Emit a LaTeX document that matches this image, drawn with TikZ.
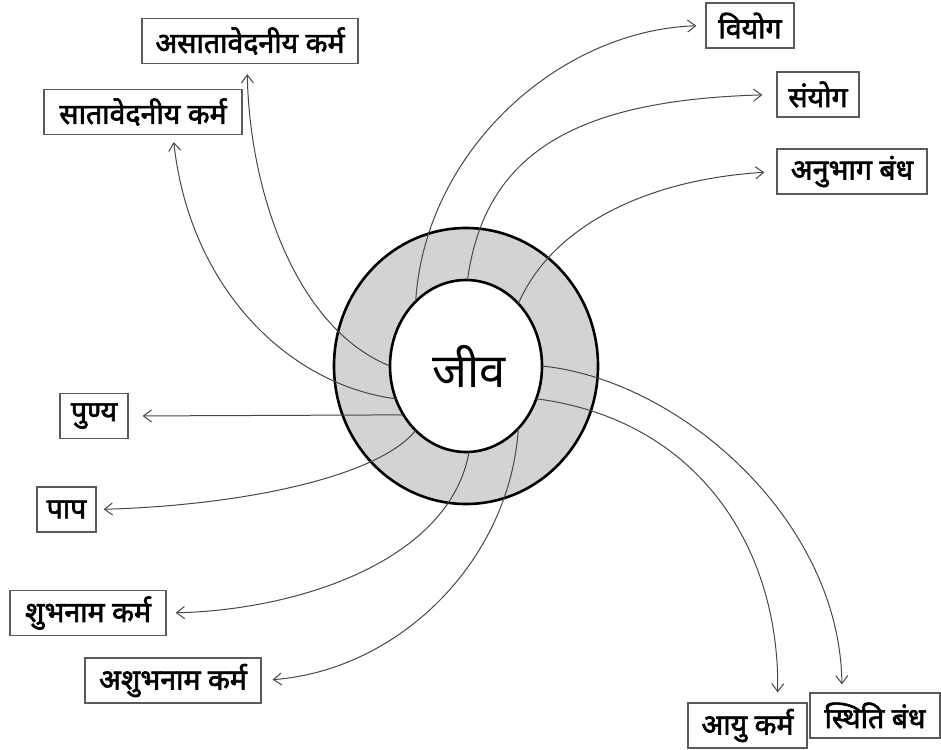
\documentclass[tikz,border=0pt]{standalone}
\usepackage{fontspec}
\newfontfamily\deva[Script=Devanagari]{Noto Sans}
\newfontfamily\devabf[Script=Devanagari,FakeBold=2.2]{Noto Sans}
\usetikzlibrary{arrows.meta,shapes.geometric,calc}
\definecolor{ringfill}{HTML}{D3D3D3}
\definecolor{wire}{HTML}{474747}
\definecolor{frame}{HTML}{5A5A5A}
\tikzset{
  ring/.style = {ellipse,draw=black,line width=2.6pt,inner sep=0pt,outer sep=0pt},
  lbox/.style = {draw=frame,line width=1.3pt,minimum height=45pt,inner sep=0pt,
                 font=\devabf\fontsize{28.5}{31}\selectfont},
  conn/.style = {draw=wire,line width=1pt,-{Straight Barb[length=8pt,width=12pt]}},
}

\begin{document}
\begin{tikzpicture}[x=1pt,y=-1pt]
  \useasboundingbox (0,0) rectangle (941,749);
  % shaded ring with the core on top
  \node[ring,fill=ringfill,minimum width=264pt,minimum height=276pt] (ring) at (466,366) {};
  \node[ring,fill=white,minimum width=152pt,minimum height=172pt,
        font=\deva\fontsize{47}{50}\selectfont] (jiva) at (466,366) {\hspace*{6pt}जीव};

  % labels
  \node[lbox,minimum width=216pt] (asata)   at (250,41)    {असातावेदनीय कर्म};
  \node[lbox,minimum width=198pt] (sata)    at (143,112)   {सातावेदनीय कर्म};
  \node[lbox,minimum width=88pt]  (viyog)   at (750,25.5)  {वियोग};
  \node[lbox,minimum width=82pt]  (sanyog)  at (818,94.5)  {संयोग};
  \node[lbox,minimum width=150pt] (anubhag) at (852,171.5) {अनुभाग बंध};
  \node[lbox,minimum width=68pt]  (punya)   at (94,416)    {पुण्य};
  \node[lbox,minimum width=59pt]  (paap)    at (66.5,509.5) {पाप};
  \node[lbox,minimum width=156pt] (shubh)   at (88,613)    {शुभनाम कर्म};
  \node[lbox,minimum width=176pt] (ashubh)  at (173,680.5) {अशुभनाम कर्म};
  \node[lbox,minimum width=119pt] (aayu)    at (747.5,725.5) {आयु कर्म};
  \node[lbox,minimum width=130pt] (sthiti)  at (875,715.5) {स्थिति बंध};

  % connectors out of the core
  \draw[conn,shorten >=9pt]  (jiva.128.5) .. controls (425,150) and (560,30) .. (viyog.west);
  \draw[conn,shorten >=14pt] (jiva.89) .. controls (485,150) and (580,100) .. (sanyog.west);
  \draw[conn,shorten >=12pt] (jiva.50) .. controls (550,230) and (640,180) .. (anubhag.west);
  \draw[conn,shorten >=10pt] (jiva.180) .. controls (300,330) and (250,200) .. ([xshift=-3pt]asata.south);
  \draw[conn,shorten >=7pt]  (jiva.205) .. controls (290,385) and (190,290) .. ([xshift=30pt]sata.south);
  \draw[conn,shorten >=14pt] (jiva.218) -- (punya.east);
  \draw[conn,shorten >=7pt]  (jiva.232) .. controls (380,475) and (250,505) .. (paap.east);
  \draw[conn,shorten >=9pt]  (jiva.272) .. controls (450,560) and (300,610) .. (shubh.east);
  \draw[conn,shorten >=11pt] (jiva.310) .. controls (510,560) and (400,670) .. (ashubh.east);
  \draw[conn,shorten >=10pt] (jiva.335.6) .. controls (700,420) and (780,550) .. ([xshift=30pt]aayu.north);
  \draw[conn,shorten >=8pt]  (jiva.0) .. controls (680,380) and (840,520) .. ([xshift=-33pt]sthiti.north);
\end{tikzpicture}
\end{document}
